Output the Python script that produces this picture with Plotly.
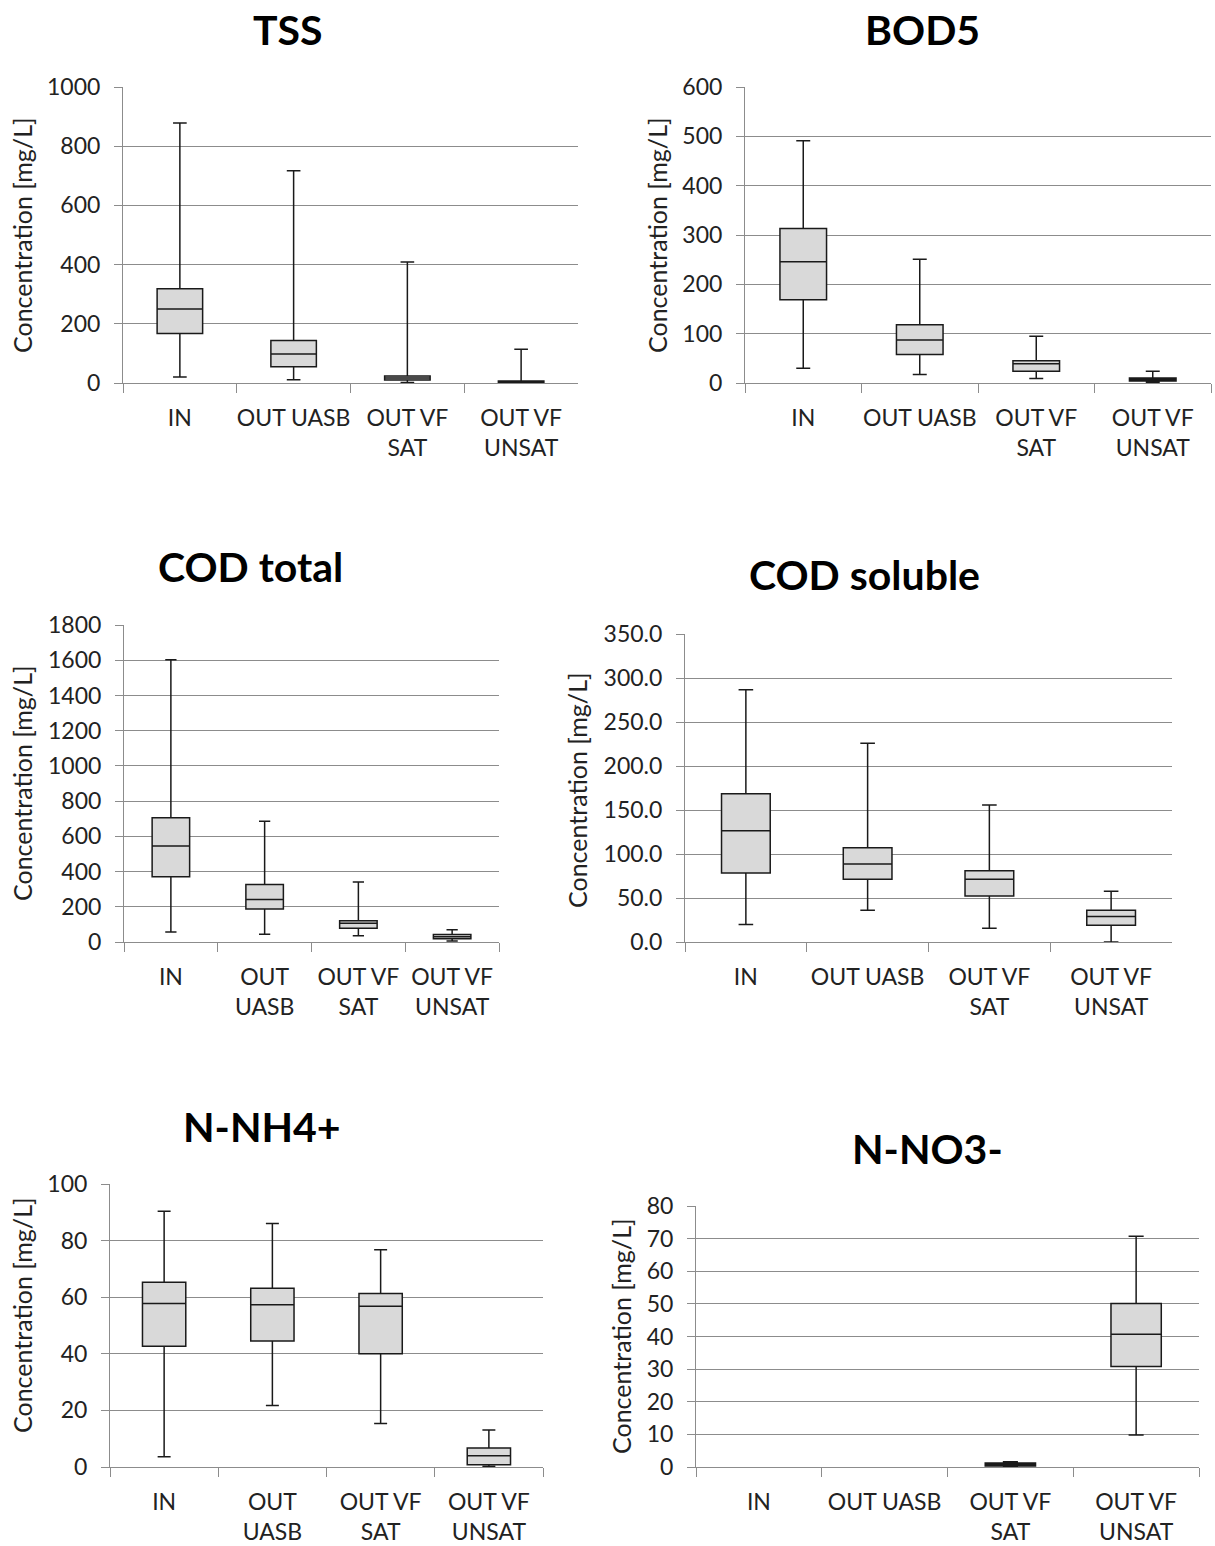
import plotly.graph_objects as go

# the figure fills the whole window; the page's default 8px body margin is removed below
W, H = 1215, 1546

# ---------------- data ----------------
CATS = ["IN", "OUT UASB", "OUT VF SAT", "OUT VF UNSAT"]

# TSS
TSS_LABELS = ["IN", "OUT UASB", "OUT VF<br>SAT", "OUT VF<br>UNSAT"]
TSS_low = [20, 11, 2, 0]
TSS_q1 = [167, 55, 10, 1]
TSS_med = [250, 98, 17, 4]
TSS_q3 = [318, 144, 24, 7]
TSS_high = [878, 717, 409, 114]

# BOD5
BOD_LABELS = ["IN", "OUT UASB", "OUT VF<br>SAT", "OUT VF<br>UNSAT"]
BOD_low = [30, 17, 9, 1]
BOD_q1 = [169, 58, 24, 4]
BOD_med = [246, 87, 39, 7]
BOD_q3 = [313, 118, 45, 10]
BOD_high = [491, 251, 95, 24]

# COD total
CODT_LABELS = ["IN", "OUT<br>UASB", "OUT VF<br>SAT", "OUT VF<br>UNSAT"]
CODT_low = [57, 44, 36, 6]
CODT_q1 = [371, 187, 78, 19]
CODT_med = [545, 241, 106, 30]
CODT_q3 = [705, 326, 121, 42]
CODT_high = [1602, 686, 341, 70]

# COD soluble
CODS_LABELS = ["IN", "OUT UASB", "OUT VF<br>SAT", "OUT VF<br>UNSAT"]
CODS_low = [20.0, 36.0, 15.5, 0.0]
CODS_q1 = [78.4, 71.2, 52.3, 19.0]
CODS_med = [126.5, 88.6, 71.2, 29.0]
CODS_q3 = [168.6, 107.2, 81.0, 36.0]
CODS_high = [286.7, 225.8, 155.7, 57.6]

# N-NH4+
NH4_LABELS = ["IN", "OUT<br>UASB", "OUT VF<br>SAT", "OUT VF<br>UNSAT"]
NH4_low = [3.6, 21.7, 15.4, 0.2]
NH4_q1 = [42.7, 44.5, 40.0, 0.8]
NH4_med = [57.8, 57.3, 56.8, 4.0]
NH4_q3 = [65.3, 63.2, 61.3, 6.7]
NH4_high = [90.4, 86.0, 76.8, 13.1]

# N-NO3- (no data for IN and OUT UASB)
NO3_LABELS = ["IN", "OUT UASB", "OUT VF<br>SAT", "OUT VF<br>UNSAT"]
NO3_cats = ["OUT VF SAT", "OUT VF UNSAT"]
NO3_low = [0.1, 9.8]
NO3_q1 = [0.3, 30.8]
NO3_med = [0.8, 40.7]
NO3_q3 = [1.2, 50.1]
NO3_high = [1.6, 70.7]

# ---------------- layout helpers ----------------
FONT = "Lato, Carlito, Calibri, 'Open Sans', sans-serif"
GRID = "#8c8c8c"
TICKFONT = 23


def px(x):
    return min(1.0, max(0.0, x / W))


def py(y):
    return min(1.0, max(0.0, 1 - y / H))


# pixel boxes in window coordinates: (left, right, top, bottom)
panels = [
    dict(title="TSS", tpos=(288, 29), ytpos=(22, 235), box=(123, 578, 87, 383),
         rng=[0, 1000], dtick=200, fmt="d", labels=TSS_LABELS,
         data=(CATS, TSS_low, TSS_q1, TSS_med, TSS_q3, TSS_high)),
    dict(title="BOD5", tpos=(922, 29), ytpos=(657, 235), box=(745, 1211, 87, 383),
         rng=[0, 600], dtick=100, fmt="d", labels=BOD_LABELS,
         data=(CATS, BOD_low, BOD_q1, BOD_med, BOD_q3, BOD_high)),
    dict(title="COD total", tpos=(250, 566), ytpos=(22, 783), box=(124, 499, 625, 942),
         rng=[0, 1800], dtick=200, fmt="d", labels=CODT_LABELS,
         data=(CATS, CODT_low, CODT_q1, CODT_med, CODT_q3, CODT_high)),
    dict(title="COD soluble", tpos=(864, 574), ytpos=(577, 790), box=(685, 1172, 634, 942),
         rng=[0, 350], dtick=50, fmt=".1f", labels=CODS_LABELS,
         data=(CATS, CODS_low, CODS_q1, CODS_med, CODS_q3, CODS_high)),
    dict(title="N-NH4+", tpos=(262, 1126), ytpos=(22, 1315), box=(110, 543, 1184, 1467),
         rng=[0, 100], dtick=20, fmt="d", labels=NH4_LABELS,
         data=(CATS, NH4_low, NH4_q1, NH4_med, NH4_q3, NH4_high)),
    dict(title="N-NO3-", tpos=(927, 1148), ytpos=(621, 1336), box=(696, 1199, 1206, 1467),
         rng=[0, 80], dtick=10, fmt="d", labels=NO3_LABELS,
         data=(NO3_cats, NO3_low, NO3_q1, NO3_med, NO3_q3, NO3_high)),
]

fig = go.Figure()
annotations = []
layout = {}

for i, p in enumerate(panels):
    n = "" if i == 0 else str(i + 1)
    xa, ya = "x" + n, "y" + n
    l, r, t, b = p["box"]
    cats, low, q1, med, q3, high = p["data"]
    fig.add_trace(go.Box(
        x=cats, lowerfence=low, q1=q1, median=med, q3=q3, upperfence=high,
        xaxis=xa, yaxis=ya, boxpoints=False, width=0.4, whiskerwidth=0.3,
        fillcolor="#d9d9d9", line=dict(color="#1a1a1a", width=1.5),
        showlegend=False, hoverinfo="skip",
    ))
    layout["xaxis" + n] = dict(
        domain=[px(l), px(r)], anchor=ya, type="category",
        categoryorder="array", categoryarray=CATS, range=[-0.5, 3.5],
        tickmode="array", tickvals=CATS, ticktext=p["labels"], tickangle=0,
        tickson="boundaries", ticks="outside", ticklen=9, tickcolor=GRID,
        showline=True, linecolor=GRID, linewidth=1, showgrid=False,
        tickfont=dict(family=FONT, size=TICKFONT, color="#222"),
        ticklabelstandoff=14, fixedrange=True, automargin=False,
    )
    layout["yaxis" + n] = dict(
        domain=[py(b), py(t)], anchor=xa, range=p["rng"], dtick=p["dtick"],
        tick0=0, tickformat=p["fmt"], ticks="outside", ticklen=8, tickcolor=GRID,
        showline=True, linecolor=GRID, linewidth=1, showgrid=True, gridcolor=GRID,
        gridwidth=1, zeroline=False,
        tickfont=dict(family=FONT, size=TICKFONT, color="#222"),
        ticklabelstandoff=9, fixedrange=True, automargin=False,
    )
    tx, ty = p["tpos"]
    annotations.append(dict(
        text="<b>%s</b>" % p["title"], x=px(tx), y=py(ty), xref="paper", yref="paper",
        xanchor="center", yanchor="middle", showarrow=False,
        font=dict(family=FONT, size=41, color="#000"),
    ))
    yx, yy = p["ytpos"]
    annotations.append(dict(
        text="Concentration [mg/L]", x=px(yx), y=py(yy), xref="paper", yref="paper",
        xanchor="center", yanchor="middle", showarrow=False, textangle=-90,
        font=dict(family=FONT, size=25, color="#222"),
    ))

fig.update_layout(
    width=W, height=H, margin=dict(l=0, r=0, t=0, b=0, autoexpand=False),
    paper_bgcolor="white", plot_bgcolor="white",
    annotations=annotations, **layout,
)

fig.write_html(
    "out.html",
    config={"displayModeBar": False},
    post_script="document.body.style.margin='0px';",
)
